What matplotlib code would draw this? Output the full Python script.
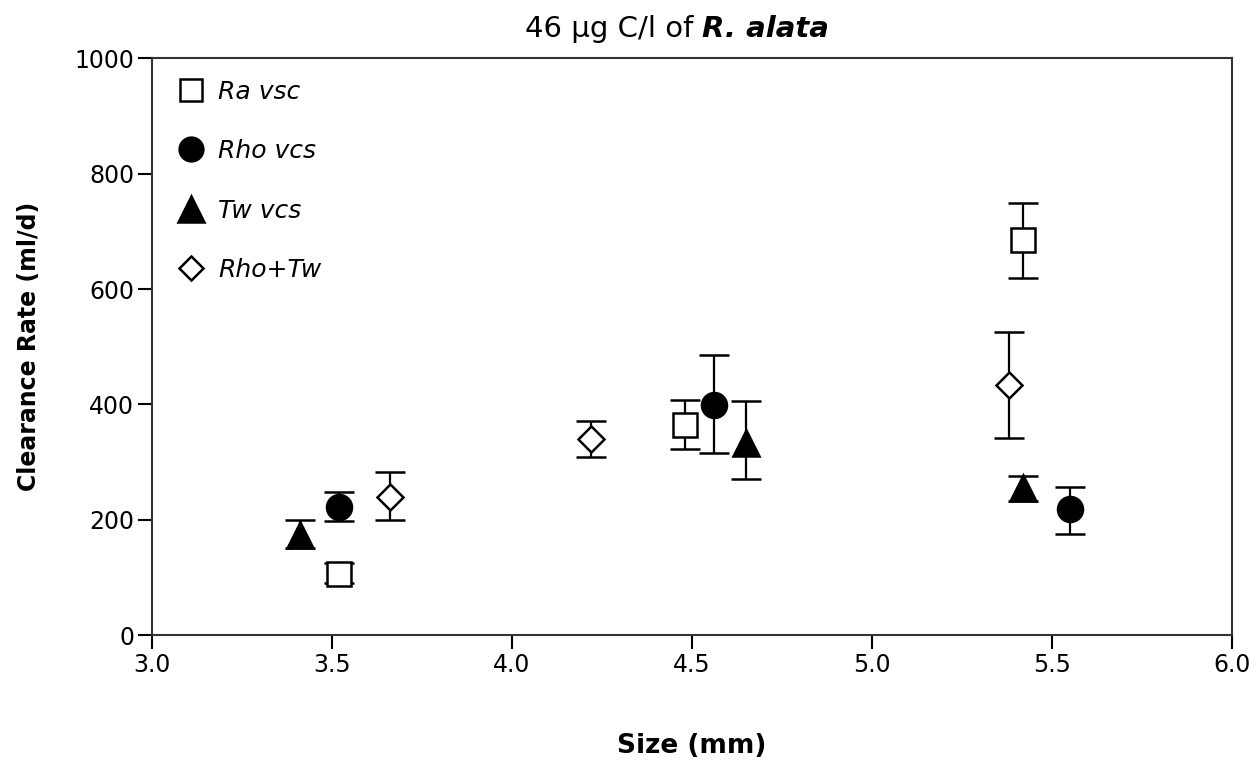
# -*- coding:utf-8 -*-
import matplotlib
matplotlib.use('Agg')
import matplotlib.pyplot as plt

# 各组的体长(mm)、清除率(ml/d)及误差
ra_x = [3.52, 4.48, 5.42]
ra_y = [106, 364, 685]
ra_lo = [16, 42, 65]
ra_hi = [19, 43, 64]

rho_x = [3.52, 4.56, 5.55]
rho_y = [222, 399, 218]
rho_lo = [24, 84, 43]
rho_hi = [26, 86, 38]

tw_x = [3.41, 4.65, 5.42]
tw_y = [173, 333, 255]
tw_lo = [22, 63, 22]
tw_hi = [26, 73, 21]

rt_x = [3.66, 4.22, 5.38]
rt_y = [239, 340, 433]
rt_lo = [40, 32, 92]
rt_hi = [43, 31, 92]

x_ticks = [3.0, 3.5, 4.0, 4.5, 5.0, 5.5, 6.0]
y_ticks = [0, 200, 400, 600, 800, 1000]

plt.rcParams['font.family'] = ['DejaVu Sans']
fig = plt.figure(figsize=(12.57, 7.68), dpi=100)
ax = fig.add_axes([0.121, 0.173, 0.859, 0.751])

common = dict(ecolor='black', elinewidth=1.6, capsize=11, capthick=1.6,
              linestyle='none', markeredgecolor='black', markeredgewidth=1.8)
ax.errorbar(ra_x, ra_y, yerr=[ra_lo, ra_hi], marker='s', markersize=17,
            markerfacecolor='white', label='Ra vsc', **common)
ax.errorbar(rho_x, rho_y, yerr=[rho_lo, rho_hi], marker='o', markersize=18,
            markerfacecolor='black', label='Rho vcs', **common)
ax.errorbar(tw_x, tw_y, yerr=[tw_lo, tw_hi], marker='^', markersize=19,
            markerfacecolor='black', label='Tw vcs', **common)
ax.errorbar(rt_x, rt_y, yerr=[rt_lo, rt_hi], marker='D', markersize=13,
            markerfacecolor='white', label='Rho+Tw', **common)

ax.set_xlim(3.0, 6.0)
ax.set_ylim(0, 1000)
ax.set_xticks(x_ticks)
ax.set_xticklabels(['%.1f' % v for v in x_ticks])
ax.set_yticks(y_ticks)
ax.tick_params(direction='out', length=10, width=1.5, labelsize=17, pad=3)
for s in ax.spines.values():
    s.set_linewidth(1.5)
    s.set_color('#333333')

ax.set_xlabel('Size (mm)', fontsize=19, fontweight='bold', labelpad=40)
ax.set_ylabel('Clearance Rate (ml/d)', fontsize=17, fontweight='bold', labelpad=24)

# 图例(去掉误差线)
handles, labels = ax.get_legend_handles_labels()
handles = [h[0] for h in handles]
leg = ax.legend(handles, labels, loc='upper left', frameon=False, numpoints=1,
                prop={'style': 'italic', 'size': 18},
                labelspacing=1.42, handletextpad=0.4, handlelength=1.4,
                borderaxespad=0.45, markerscale=0.95)

# 标题: 物种名粗斜体
fig.canvas.draw()
r = fig.canvas.get_renderer()
t1 = fig.text(0.5, 0.962, '46 \u03bcg C/l of ', fontsize=21,
              ha='left', va='center')
t2 = fig.text(0.5, 0.962, 'R. alata', fontsize=21,
              fontweight='bold', style='italic', ha='left', va='center')
w1 = t1.get_window_extent(r).width / fig.bbox.width
w2 = t2.get_window_extent(r).width / fig.bbox.width
x0 = 0.5386 - (w1 + w2) / 2
t1.set_x(x0)
t2.set_x(x0 + w1)

plt.savefig('out.png', dpi=100)
